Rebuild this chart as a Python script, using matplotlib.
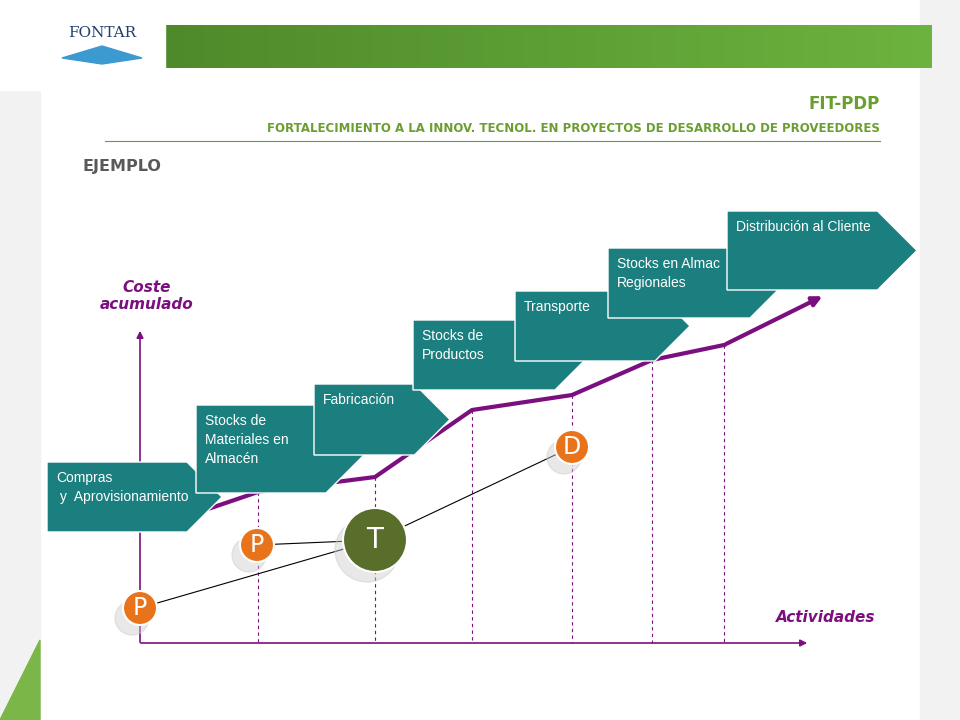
import numpy as np
import matplotlib.pyplot as plt
from matplotlib.patches import Polygon, Circle, Rectangle, FancyArrowPatch

# Datos del diagrama (coordenadas de la lámina, px)
etapas = ['Compras\n y  Aprovisionamiento', 'Stocks de\nMateriales en\nAlmacén', 'Fabricación',
          'Stocks de\nProductos', 'Transporte', 'Stocks en Almac\nRegionales', 'Distribución al Cliente']
etapa_x0 = [47, 196, 314, 413, 515, 608, 727]
etapa_x1 = [222, 370, 450, 590, 690, 785, 917]
etapa_y0 = [462, 405, 384, 320, 291, 248, 211]
etapa_y1 = [532, 493, 455, 390, 361, 318, 290]

coste_x = [205, 258, 375, 472, 572, 652, 724, 825]
coste_y = [510, 492, 477, 410, 395, 360, 345, 295]

nodos = ['P', 'P', 'T', 'D']
nodo_x = [140, 257, 375, 572]
nodo_y = [608, 545, 540, 447]
nodo_r = [17, 17, 32, 17]

TEAL = '#1a7f7e'
PURPLE = '#7b0f7f'
GREEN = '#6a9e2f'

fig = plt.figure(figsize=(9.6, 7.2), dpi=100)
ax = fig.add_axes([0, 0, 1, 1])
ax.set_xlim(0, 960)
ax.set_ylim(720, 0)
ax.axis('off')

# fondo rayado a los lados
ax.add_patch(Rectangle((0, 0), 40, 720, color='#f2f2f2', zorder=0))
ax.add_patch(Rectangle((920, 0), 40, 720, color='#f2f2f2', zorder=0))
ax.add_patch(Polygon([(0, 720), (40, 640), (40, 720)], color='#7ab648', zorder=1))

# barra verde con degradado
grad = np.linspace(0, 1, 256).reshape(1, -1)
ax.imshow(grad, extent=(165, 932, 68, 25), cmap=plt.matplotlib.colors.LinearSegmentedColormap.from_list(
    'g', ['#4f8a2a', '#6db33f']), aspect='auto', zorder=1)
ax.add_patch(Rectangle((0, 0), 165, 90, color='white', zorder=2))
ax.text(102, 33, 'FONTAR', ha='center', va='center', fontsize=11, color='#1d3f6e', family='serif', zorder=3)
ax.add_patch(Polygon([(62, 58), (102, 46), (142, 58), (102, 64)], color='#3d9ad1', zorder=3))

ax.text(880, 104, 'FIT-PDP', ha='right', va='center', fontsize=12, fontweight='bold', color=GREEN)
ax.text(880, 129, 'FORTALECIMIENTO A LA INNOV. TECNOL. EN PROYECTOS DE DESARROLLO DE PROVEEDORES',
        ha='right', va='center', fontsize=8.5, fontweight='bold', color=GREEN)
ax.plot([105, 880], [141, 141], color=GREEN, lw=0.8)
ax.text(82, 167, 'EJEMPLO', ha='left', va='center', fontsize=11.5, fontweight='bold', color='#595959')

# ejes
ax.add_patch(FancyArrowPatch((140, 645), (140, 328), arrowstyle='-|>', mutation_scale=10, color=PURPLE, lw=1.2))
ax.add_patch(FancyArrowPatch((138, 643), (810, 643), arrowstyle='-|>', mutation_scale=10, color=PURPLE, lw=1.2))
ax.text(147, 296, 'Coste\nacumulado', ha='center', va='center', fontsize=11, fontweight='bold',
        style='italic', color=PURPLE)
ax.text(826, 617, 'Actividades', ha='center', va='center', fontsize=11, fontweight='bold',
        style='italic', color=PURPLE)

# líneas discontinuas
for x, y in zip(coste_x[1:-1], coste_y[1:-1]):
    ax.plot([x, x], [y, 643], color=PURPLE, lw=0.8, ls=(0, (3, 3)), zorder=2)

# curva de coste
ax.plot(coste_x[:-1], coste_y[:-1], color=PURPLE, lw=3, zorder=3)
ax.add_patch(FancyArrowPatch((coste_x[-2], coste_y[-2]), (coste_x[-1], coste_y[-1]), arrowstyle='-|>',
                             mutation_scale=14, color=PURPLE, lw=3, zorder=3))

# flechas de etapas
for i, txt in enumerate(etapas):
    x0, x1, y0, y1 = etapa_x0[i], etapa_x1[i], etapa_y0[i], etapa_y1[i]
    ym = (y0 + y1) / 2
    tip = (y1 - y0) / 2
    pts = [(x0, y0), (x1 - tip, y0), (x1, ym), (x1 - tip, y1), (x0, y1)]
    ax.add_patch(Polygon(pts, closed=True, fc=TEAL, ec='white', lw=1, zorder=4 + i))
    ax.text(x0 + 9, y0 + 9, txt, ha='left', va='top', fontsize=10, color='white',
            linespacing=1.45, zorder=4 + i, family='Liberation Sans')

# conexiones
for i in [0, 1, 3]:
    ax.plot([nodo_x[i], nodo_x[2]], [nodo_y[i], nodo_y[2]], color='black', lw=0.8, zorder=12)

# nodos
for n, x, y, r in zip(nodos, nodo_x, nodo_y, nodo_r):
    ax.add_patch(Circle((x - 8, y + 10), r, color='#cccccc', alpha=0.45, zorder=12))
    c = '#5a6e2c' if n == 'T' else '#e8731a'
    ax.add_patch(Circle((x, y), r, fc=c, ec='white', lw=1.5, zorder=13))
    ax.text(x, y, n, ha='center', va='center', fontsize=20 if n == 'T' else 17, color='white', zorder=14)

fig.savefig('out.png', dpi=100)
